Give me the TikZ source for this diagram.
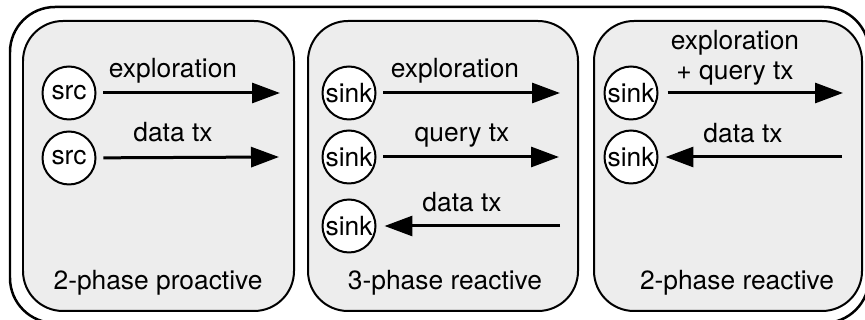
\documentclass[tikz,border=0pt]{standalone}
\usepackage{fontspec}
\setmainfont{TeX Gyre Heros}
\usepackage{tikz}
\usetikzlibrary{arrows.meta, positioning}
\tikzset{
  panel/.style={draw, line width=0.04cm, rounded corners=0.8cm, fill=black!7},
  frame/.style={draw, line width=0.05cm, rounded corners=0.9cm},
  peer/.style={circle, draw, line width=0.04cm, fill=white, minimum size=1.06cm, inner sep=0pt},
  lbl/.style={inner sep=0pt, anchor=base},
  arrow/.style={-{Triangle[length=0.56cm, width=0.4cm]}, line width=0.06cm}
}

\begin{document}
\begin{tikzpicture}[x=0.02cm, y=-0.02cm, every node/.style={font=\fontsize{15}{17.6}\selectfont}]
  \useasboundingbox (0,0) rectangle (865,320);
  % Frame and panels
  \draw[frame] (10,7) rectangle (869,323);
  \draw[panel] (23,21) rectangle (294,311);
  \draw[panel] (308,21) rectangle (578,311);
  \draw[panel] (594,21) rectangle (862,311);

  % Nodes
  \node[peer] (srcexp) at (69,93) {src};
  \node[peer] (srcdata) at (69,158) {src};
  \node[peer] (sinkexp) at (349,93) {sink};
  \node[peer] (sinkquery) at (349,157) {sink};
  \node[peer] (sinkdata) at (349,226) {sink};
  \node[peer] (sinkexpq) at (631,93) {sink};
  \node[peer] (sinkdatb) at (631,157) {sink};

  \coordinate (srcexp-end) at (280,93);
  \coordinate (srcdata-end) at (279,157);
  \coordinate (sinkexp-end) at (560,93);
  \coordinate (sinkquery-end) at (559,157);
  \coordinate (sinkdata-end) at (560,226);
  \coordinate (sinkexpq-end) at (843,93);
  \coordinate (sinkdatb-end) at (842,157);

  % Labels
  \node[lbl] (lexp1) at (173,78) {exploration};
  \node[lbl] (ldata1) at (173,142) {data tx};
  \node[lbl] (lexp2) at (455,78) {exploration};
  \node[lbl] (lquery2) at (462,142) {query tx};
  \node[lbl] (ldata2) at (462,212) {data tx};
  \node[lbl, align=center] (lexpq3) at (735,80) {exploration\\+ query tx};
  \node[lbl] (ldata3) at (743,143) {data tx};
  \node[lbl] (title1) at (158,290) {2-phase proactive};
  \node[lbl] (title2) at (445,290) {3-phase reactive};
  \node[lbl] (title3) at (737,290) {2-phase reactive};

  % Connections
  \draw[arrow, shorten <=0.14cm] (srcexp) -- (srcexp-end);
  \draw[arrow, shorten <=0.14cm] (srcdata) -- (srcdata-end);
  \draw[arrow, shorten <=0.14cm] (sinkexp) -- (sinkexp-end);
  \draw[arrow, shorten <=0.14cm] (sinkquery) -- (sinkquery-end);
  \draw[arrow, shorten >=0.16cm] (sinkdata-end) -- (sinkdata);
  \draw[arrow, shorten <=0.18cm] (sinkexpq) -- (sinkexpq-end);
  \draw[arrow, shorten >=0.14cm] (sinkdatb-end) -- (sinkdatb);
\end{tikzpicture}
\end{document}
